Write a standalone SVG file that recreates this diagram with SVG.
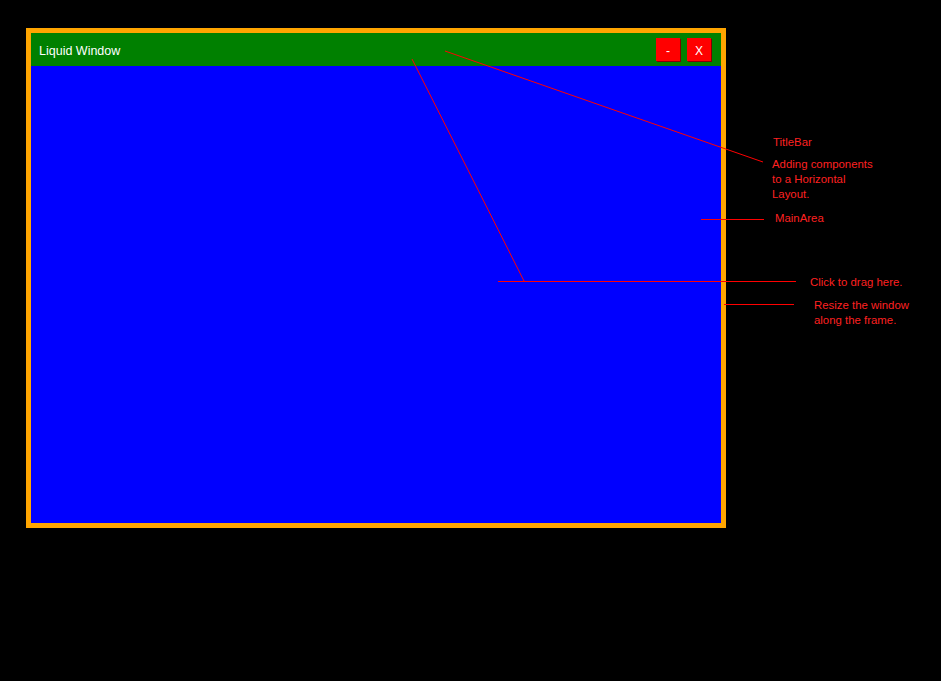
<svg xmlns="http://www.w3.org/2000/svg" width="941" height="681" viewBox="0 0 941 681">
<style>
.lbl{font-family:"Liberation Sans",Arial,sans-serif;font-size:11.4px;fill:#ff2020}
.ln{stroke:#ff0000;stroke-width:1;fill:none}
</style>
<rect width="941" height="681" fill="#000000"/>
<g id="window">
<rect x="26" y="28" width="700" height="500" fill="#ffa500"/>
<rect x="31" y="33" width="690" height="490" fill="#0000ff"/>
</g>
<g id="titlebar">
<rect x="31" y="33" width="690" height="33" fill="#008000"/>
<text x="39" y="55" font-family="Liberation Sans,Arial,sans-serif" font-size="12.5" fill="#ffffff">Liquid Window</text>
</g>
<g id="btn-min">
<rect x="657" y="39" width="24" height="23" fill="#800000"/>
<rect x="656" y="38" width="24" height="23" fill="#ff0000"/>
<text x="668" y="55" text-anchor="middle" font-family="Liberation Sans,Arial,sans-serif" font-size="12" fill="#ffffff">-</text>
</g>
<g id="btn-close">
<rect x="688" y="39" width="24" height="23" fill="#800000"/>
<rect x="687" y="38" width="24" height="23" fill="#ff0000"/>
<text x="699" y="55" text-anchor="middle" font-family="Liberation Sans,Arial,sans-serif" font-size="12" fill="#ffffff">X</text>
</g>
<g id="connectors">
<line class="ln" x1="445" y1="51" x2="763" y2="162"/>
<line class="ln" x1="412" y1="59" x2="524" y2="281"/>
<line class="ln" x1="498" y1="281.5" x2="796" y2="281.5"/>
<line class="ln" x1="724" y1="304.5" x2="794" y2="304.5"/>
<line class="ln" x1="701" y1="219.5" x2="764" y2="219.5"/>
</g>
<g id="labels">
<text class="lbl" x="773" y="146">TitleBar</text>
<text class="lbl" x="772" y="168">Adding components</text>
<text class="lbl" x="772" y="183">to a Horizontal</text>
<text class="lbl" x="772" y="198">Layout.</text>
<text class="lbl" x="775" y="222">MainArea</text>
<text class="lbl" x="810" y="286">Click to drag here.</text>
<text class="lbl" x="814" y="309">Resize the window</text>
<text class="lbl" x="814" y="324">along the frame.</text>
</g>
</svg>
